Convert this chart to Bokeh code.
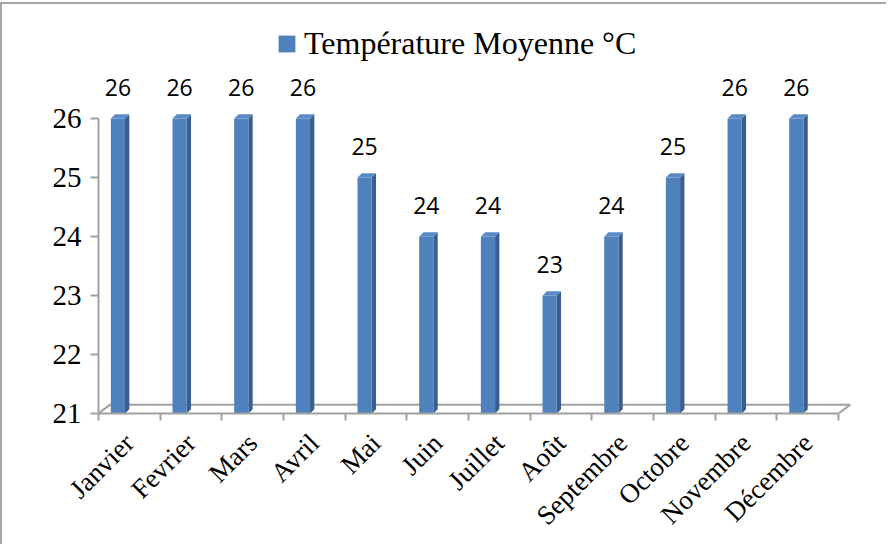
import math
from bokeh.plotting import figure
from bokeh.models import ColumnDataSource, FixedTicker, Range1d, Legend, LegendItem
from bokeh.core.properties import value
from bokeh.embed import file_html
from bokeh.resources import INLINE

months = ["Janvier", "Fevrier", "Mars", "Avril", "Mai", "Juin", "Juillet",
          "Août", "Septembre", "Octobre", "Novembre", "Décembre"]
temps = [26, 26, 26, 26, 25, 24, 24, 23, 24, 25, 26, 26]
y_ticks = [21, 22, 23, 24, 25, 26]
series_name = "Température Moyenne °C"

Y0 = 21
FRONT_L, FRONT_R = 0.20, 0.43
BAR_DX, BAR_DY = 0.07, 0.07
FLOOR_DX, FLOOR_DY = 0.19, 0.15

idx = list(range(len(months)))
src = ColumnDataSource(dict(
    left=[i + FRONT_L for i in idx],
    right=[i + FRONT_R for i in idx],
    top=temps,
    bottom=[Y0] * len(idx),
    lx=[i + (FRONT_L + FRONT_R) / 2 for i in idx],
    label=[str(t) for t in temps],
))

side_xs = [[i + FRONT_R, i + FRONT_R + BAR_DX, i + FRONT_R + BAR_DX, i + FRONT_R] for i in idx]
side_ys = [[Y0, Y0 + BAR_DY, t + BAR_DY, t] for t in temps]
top_xs = [[i + FRONT_L, i + FRONT_L + BAR_DX, i + FRONT_R + BAR_DX, i + FRONT_R] for i in idx]
top_ys = [[t, t + BAR_DY, t + BAR_DY, t] for t in temps]

n = len(months)
p = figure(width=886, height=542, output_backend="svg", toolbar_location=None,
           x_range=Range1d(0, 12.55), y_range=Range1d(21, 27.83),
           min_border_left=96, min_border_right=16, min_border_top=6, min_border_bottom=133)
p.styles = {"border-top": "2px solid #a6a6a6", "border-left": "2px solid #a6a6a6",
            "margin-top": "2px"}
p.outline_line_color = None
p.grid.visible = False
p.background_fill_color = "white"
p.border_fill_color = "white"

gray = "#a0a0a0"

# floor
p.line([FLOOR_DX, n + FLOOR_DX], [Y0 + FLOOR_DY, Y0 + FLOOR_DY], line_color=gray, line_width=2)
p.line([0, FLOOR_DX], [Y0, Y0 + FLOOR_DY], line_color=gray, line_width=2)
p.line([n, n + FLOOR_DX], [Y0, Y0 + FLOOR_DY], line_color=gray, line_width=2)

# bars
p.patches(side_xs, side_ys, fill_color="#3a5f8f", line_color=None)
p.patches(top_xs, top_ys, fill_color="#5a8ac6", line_color=None)
bars = p.quad(left="left", right="right", top="top", bottom="bottom", source=src,
              fill_color="#4f81bd", line_color=None)

p.text(x="lx", y="top", text="label", source=src, text_align="center",
       text_baseline="alphabetic", y_offset=-31,
       text_font=value("Open Sans"), text_font_size="23px", text_color="black")

# axes
ya = p.yaxis[0]
ya.ticker = FixedTicker(ticks=y_ticks)
ya.bounds = (21, 26)
ya.axis_line_color = gray
ya.axis_line_width = 2
ya.major_tick_line_color = gray
ya.major_tick_line_width = 2
ya.major_tick_in = 0
ya.major_tick_out = 8
ya.minor_tick_line_color = None
ya.major_label_text_font = "Liberation Serif"
ya.major_label_text_font_size = "29px"
ya.major_label_text_color = "black"
ya.major_label_standoff = 9

xa = p.xaxis[0]
xa.ticker = FixedTicker(ticks=[i + 0.5 for i in idx], minor_ticks=list(range(n + 1)))
xa.bounds = (0, n)
xa.major_label_overrides = {i + 0.5: m for i, m in zip(idx, months)}
xa.axis_line_color = gray
xa.axis_line_width = 2
xa.major_tick_line_color = None
xa.major_tick_out = 0
xa.major_tick_in = 0
xa.minor_tick_line_color = gray
xa.minor_tick_line_width = 2
xa.minor_tick_in = 0
xa.minor_tick_out = 7
xa.major_label_orientation = math.pi / 4
xa.major_label_text_font = "Liberation Serif"
xa.major_label_text_font_size = "27px"
xa.major_label_text_color = "black"
xa.major_label_standoff = 18

legend = Legend(items=[LegendItem(label=series_name, renderers=[bars])],
                location=(178, 351), orientation="horizontal",
                glyph_width=21, glyph_height=21, label_standoff=7,
                label_text_font="Liberation Serif", label_text_font_size="32px",
                label_text_color="black", padding=0, margin=0, spacing=0,
                background_fill_alpha=0, border_line_alpha=0)
p.add_layout(legend)

open("out.html", "w").write(file_html(p, INLINE))
